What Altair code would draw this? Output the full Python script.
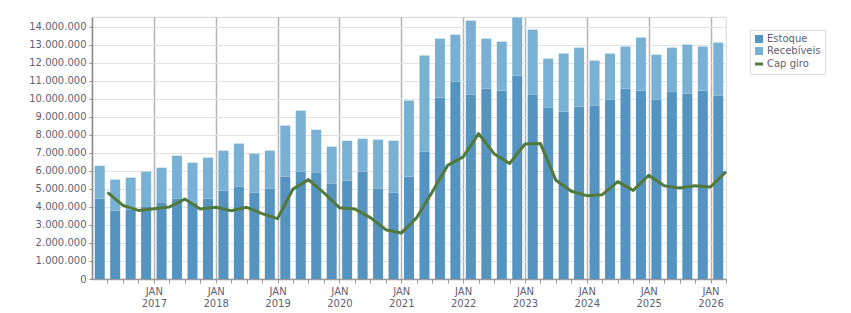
import altair as alt
import pandas as pd

# Quarters Q1 2016 .. Q1 2026 (41 quarters)
quarters = [f"{y}-T{q}" for y in range(2016, 2027) for q in range(1, 5)][:41]

# values in millions
estoque = [4.46, 3.79, 3.85, 4.00, 4.26, 4.46, 4.26, 4.46, 4.90, 5.13, 4.79, 5.02,
           5.68, 5.96, 5.91, 5.29, 5.46, 5.96, 5.02, 4.79, 5.68, 7.07,
           10.07, 10.96, 10.24, 10.57, 10.46, 11.29, 10.24,
           9.52, 9.29, 9.57, 9.63, 9.96, 10.57, 10.46, 9.96, 10.41, 10.29, 10.46, 10.18]
recebiveis = [1.83, 1.73, 1.78, 1.96, 1.92, 2.39, 2.20, 2.28, 2.23, 2.39, 2.17, 2.11,
              2.84, 3.39, 2.38, 2.06, 2.22, 1.83, 2.72, 2.89, 4.23, 5.34,
              3.28, 2.61, 4.11, 2.78, 2.72, 3.23, 3.61,
              2.72, 3.23, 3.28, 2.50, 2.56, 2.34, 2.95, 2.50, 2.44, 2.73, 2.45, 2.95]
cap_giro = [4.81, 4.09, 3.81, 3.90, 4.00, 4.44, 3.89, 3.98, 3.79, 3.98, 3.63, 3.35,
            5.00, 5.52, 4.78, 3.96, 3.89, 3.41, 2.74, 2.55, 3.41, 4.83, 6.31, 6.78,
            8.07, 6.96, 6.41, 7.50, 7.52,
            5.48, 4.87, 4.63, 4.68, 5.41, 4.92, 5.76, 5.18, 5.05, 5.18, 5.11, 5.96]

series_names = ["Estoque", "Recebíveis", "Cap giro"]
colors = ["#5593c0", "#79b1d4", "#52793a"]

rows = []
for i, q in enumerate(quarters):
    rows.append({"q": q, "x": i + 0.5, "serie": "Estoque", "ord": 0, "v": estoque[i] * 1e6})
    rows.append({"q": q, "x": i + 0.5, "serie": "Recebíveis", "ord": 1, "v": recebiveis[i] * 1e6})
bars_df = pd.DataFrame(rows)
line_df = pd.DataFrame({"q": quarters, "x": [i + 1 for i in range(len(quarters))],
                        "v": [c * 1e6 for c in cap_giro], "serie": "Cap giro"})

FONT = "DejaVu Sans"
TXT = "#5f5f72"

x_scale = alt.Scale(domain=[0, len(quarters)], nice=False, zero=False, padding=0)
y_scale = alt.Scale(domain=[0, 14.55e6], nice=False, padding=0)

x_axis = alt.Axis(
    values=list(range(1, len(quarters) + 1)),
    labelExpr="datum.value % 4 === 0 ? ['JAN', '' + (2016 + datum.value / 4)] : ''",
    title=None, grid=True,
    gridColor={"condition": {"test": "datum.value % 4 === 0", "value": "#b4b4b4"},
               "value": "rgba(0,0,0,0)"},
    gridWidth=1.5,
    tickSize=4, tickColor="#9a9a9a", domainColor="#9a9a9a", domainWidth=1.5,
    labelFont=FONT, labelFontSize=10, labelColor=TXT, labelPadding=3,
    labelLineHeight=12, labelBaseline="top", labelFlush=False, labelOverlap=False,
)
y_axis = alt.Axis(
    values=[i * 1e6 for i in range(0, 15)],
    labelExpr="replace(format(datum.value, ',d'), /,/g, '.')",
    title=None, grid=True, gridColor="#e1e1e1", gridWidth=1.2,
    tickSize=3, tickColor="#888888", domainColor="#888888", domainWidth=1.5,
    labelFont=FONT, labelFontSize=10, labelColor=TXT, labelPadding=3,
    labelOverlap=False,
)

color_scale = alt.Scale(domain=series_names, range=colors)
legend = alt.Legend(
    title=None, orient="none", legendX=658, legendY=13,
    labelFont=FONT, labelFontSize=10, labelColor=TXT,
    strokeColor="#dddddd", padding=4, rowPadding=2, symbolSize=64,
    labelOffset=3, symbolOpacity=1,
    symbolType={"expr": "datum.value === 'Cap giro' ? 'stroke' : 'square'"},
    symbolStrokeWidth={"expr": "datum.value === 'Cap giro' ? 3 : 0"},
    symbolStrokeColor={"expr": "scale('color', datum.value)"},
)

bars = alt.Chart(bars_df).mark_bar(size=10, opacity=1).encode(
    x=alt.X("x:Q", scale=x_scale, axis=x_axis),
    y=alt.Y("v:Q", stack="zero", scale=y_scale, axis=y_axis),
    color=alt.Color("serie:N", scale=color_scale, legend=legend, sort=series_names),
    order=alt.Order("ord:Q", sort="ascending"),
)

line = alt.Chart(line_df).mark_line(strokeWidth=3, strokeJoin="round").encode(
    x=alt.X("x:Q", scale=x_scale, axis=x_axis),
    y=alt.Y("v:Q", scale=y_scale, axis=y_axis),
    color=alt.Color("serie:N", scale=color_scale, legend=legend),
)

chart = alt.layer(bars, line).properties(
    width=634, height=262,
    autosize="none",
    padding={"left": 92, "top": 17, "right": 125, "bottom": 34},
    background="white",
).configure_view(stroke="#dddddd", strokeWidth=1.2)

chart.save("out.html", embed_options={"renderer": "svg", "actions": False})
